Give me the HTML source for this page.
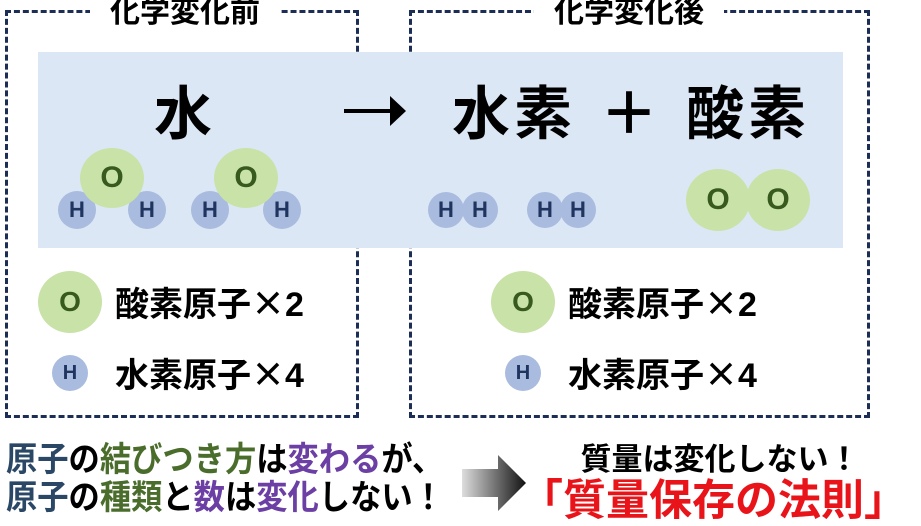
<!DOCTYPE html>
<html><head><meta charset="utf-8"><style>
body{margin:0;width:921px;height:518px;overflow:hidden;background:#fff;position:relative;font-family:"Liberation Sans","Noto Sans CJK JP",sans-serif;font-weight:bold}
.a{position:absolute;white-space:nowrap}
.box{position:absolute;border:3px dashed #1c2e55}
.c{position:absolute;border-radius:50%;display:flex;align-items:center;justify-content:center;font-family:"Liberation Sans",sans-serif;font-weight:bold}
.o{background:#c9e2a8;color:#375a1f}
.h{background:#a9bbde;color:#1f3560}
.x{font-family:"Noto Sans CJK JP",sans-serif}
</style></head><body>
<div class="box" style="left:5px;top:10px;width:348px;height:402px"></div>
<div class="box" style="left:409px;top:10px;width:455px;height:402px"></div>
<div class="a" style="left:90px;top:-5px;width:190px;height:36px;background:#fff;font-size:30px;text-align:center;line-height:36px">化学変化前</div>
<div class="a" style="left:534px;top:-5px;width:190px;height:36px;background:#fff;font-size:30px;text-align:center;line-height:36px">化学変化後</div>
<div class="a" style="left:38px;top:52px;width:805px;height:196px;background:#dbe7f5"></div>
<div class="a" style="left:154px;top:82px;font-size:58px;line-height:66px">水</div>
<svg class="a" style="left:344px;top:96px" width="62" height="30"><path d="M0 13H46V0L62 15L46 30V17H0Z" fill="#000"/></svg>
<div class="a" style="left:452px;top:82px;font-size:58px;line-height:66px;letter-spacing:4px">水素</div>
<div class="a" style="left:600px;top:82px;font-size:58px;line-height:66px">＋</div>
<div class="a" style="left:686px;top:82px;font-size:58px;line-height:66px;letter-spacing:4px">酸素</div>
<div class="c h" style="left:58px;top:191px;width:38px;height:38px;font-size:22px">H</div>
<div class="c h" style="left:128px;top:191px;width:38px;height:38px;font-size:22px">H</div>
<div class="c o" style="left:80px;top:148px;width:64px;height:60px;font-size:30px">O</div>
<div class="c h" style="left:191px;top:191px;width:38px;height:38px;font-size:22px">H</div>
<div class="c h" style="left:263px;top:191px;width:38px;height:38px;font-size:22px">H</div>
<div class="c o" style="left:214px;top:148px;width:64px;height:60px;font-size:30px">O</div>
<div class="c h" style="left:428px;top:192px;width:36px;height:36px;font-size:22px">H</div>
<div class="c h" style="left:462px;top:192px;width:36px;height:36px;font-size:22px">H</div>
<div class="c h" style="left:527px;top:192px;width:36px;height:36px;font-size:22px">H</div>
<div class="c h" style="left:560px;top:192px;width:36px;height:36px;font-size:22px">H</div>
<div class="c o" style="left:686px;top:169px;width:64px;height:62px;font-size:30px">O</div>
<div class="c o" style="left:746px;top:169px;width:64px;height:62px;font-size:30px">O</div>
<div class="c o" style="left:38px;top:271px;width:64px;height:62px;font-size:28px">O</div>
<div class="a" style="left:115px;top:281px;font-size:34px;line-height:42px">酸素原子<span class="x">×</span>2</div>
<div class="c h" style="left:52px;top:355px;width:36px;height:36px;font-size:20px">H</div>
<div class="a" style="left:115px;top:352px;font-size:34px;line-height:42px">水素原子<span class="x">×</span>4</div>
<div class="c o" style="left:491px;top:271px;width:64px;height:62px;font-size:28px">O</div>
<div class="a" style="left:568px;top:281px;font-size:34px;line-height:42px">酸素原子<span class="x">×</span>2</div>
<div class="c h" style="left:505px;top:355px;width:36px;height:36px;font-size:20px">H</div>
<div class="a" style="left:568px;top:352px;font-size:34px;line-height:42px">水素原子<span class="x">×</span>4</div>
<div class="a" style="left:6px;top:440px;font-size:34px;line-height:40px;transform:scaleX(0.92);transform-origin:0 0"><span style="color:#2a4766">原子</span>の<span style="color:#4a6d2c">結びつき方</span>は<span style="color:#6b3fa3">変わる</span>が、</div>
<div class="a" style="left:6px;top:478px;font-size:34px;line-height:40px;transform:scaleX(0.92);transform-origin:0 0"><span style="color:#2a4766">原子</span>の<span style="color:#4a6d2c">種類</span>と<span style="color:#6b3fa3">数</span>は<span style="color:#6b3fa3">変化</span>しない！</div>
<svg class="a" style="left:462px;top:455px" width="66" height="56"><defs><linearGradient id="g"><stop offset="0" stop-color="#ddd"/><stop offset="1" stop-color="#111"/></linearGradient></defs><path d="M0 14H36V0L64 28L36 56V42H0Z" fill="url(#g)"/></svg>
<div class="a" style="left:560px;top:440px;width:320px;text-align:center;font-size:31px;line-height:40px">質量は変化しない！</div>
<div class="a" style="left:520px;top:476px;width:380px;text-align:center;font-size:43px;line-height:50px;color:#e8141a">「質量保存の法則」</div>
</body></html>
